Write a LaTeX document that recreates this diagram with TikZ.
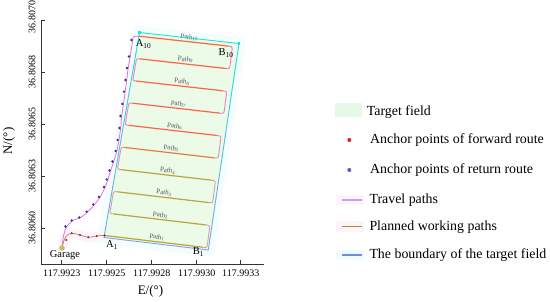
\documentclass[tikz,border=0pt]{standalone}
\usepackage{fontspec}
\setmainfont{Liberation Serif}
\usetikzlibrary{calc}
\definecolor{fieldgreen}{RGB}{236,250,232}
\definecolor{halo}{RGB}{243,253,253}
\definecolor{pinkhalo}{RGB}{253,244,249}
\definecolor{bcyan}{RGB}{30,225,225}
\definecolor{bblue}{RGB}{130,160,235}
\definecolor{wred}{RGB}{255,100,70}
\definecolor{wolive}{RGB}{185,165,60}
\definecolor{upink}{RGB}{240,120,200}
\definecolor{ugray}{RGB}{210,165,175}
\definecolor{retpink}{RGB}{230,115,215}
\definecolor{fwdpink}{RGB}{205,125,135}
\definecolor{retdot}{RGB}{45,45,175}
\definecolor{fwddot}{RGB}{120,45,45}
\definecolor{garagec}{RGB}{200,190,100}
\definecolor{legred}{RGB}{235,30,30}
\definecolor{legblue}{RGB}{100,90,190}
\definecolor{legtravel}{RGB}{200,160,240}
\definecolor{legplan}{RGB}{170,140,45}
\definecolor{legbound}{RGB}{110,140,225}
\definecolor{leggreen}{RGB}{230,249,230}
\definecolor{legbgpink}{RGB}{253,244,250}
\definecolor{legbgcyan}{RGB}{240,251,253}
\newcommand\fieldpt[3]{%
  \coordinate (fpA) at ($(TL)!#2!(TR)$);
  \coordinate (fpB) at ($(BL)!#2!(BR)$);
  \coordinate (#1) at ($(fpA)!#3!(fpB)$);}
\begin{document}
\begin{tikzpicture}[x=1pt,y=-1pt,
  ticklab/.style={font=\fontsize{10}{12}\selectfont, inner sep=0pt},
  axlab/.style={font=\fontsize{13}{15}\selectfont, inner sep=0pt},
  leglab/.style={font=\fontsize{13.9}{16}\selectfont, anchor=base west, inner sep=0pt},
  pathlab/.style={font=\fontsize{7}{8}\selectfont, text=black!65, anchor=south, inner sep=1.2pt, rotate=-6.3},
  ptlab/.style={font=\fontsize{10.5}{12}\selectfont, inner sep=0pt},
  workline/.style={line width=1.2pt, line cap=round},
  uturn/.style={line width=0.9pt},
  bline/.style={line width=0.9pt, line cap=round},
  axisline/.style={line width=0.7pt, black!80},
  route/.style={line width=0.8pt},
]
\useasboundingbox (0,0) rectangle (550,302);

% ---------- field corners ----------
\coordinate (TL) at (139.5,32.5);
\coordinate (TR) at (239,43.5);
\coordinate (BL) at (104,237.5);
\coordinate (BR) at (208.3,250);

% ---------- axes ----------
\draw[axisline] (41,20) -- (41,264) -- (263.5,264);
\foreach \yy in {20,72,124,176,228} \draw[axisline] (41,\yy) -- (45,\yy);
\foreach \xx in {61.7,106.7,151.7,196.7,240.7} \draw[axisline] (\xx,264) -- (\xx,260);
\node[ticklab, rotate=90] (y1) at (32,17) {36.8070};
\node[ticklab, rotate=90] (y2) at (32,72) {36.8068};
\node[ticklab, rotate=90] (y3) at (32,124) {36.8065};
\node[ticklab, rotate=90] (y4) at (32,176) {36.8063};
\node[ticklab, rotate=90] (y5) at (32,228) {36.8060};
\node[ticklab] (x1) at (61.7,273.5) {117.9923};
\node[ticklab] (x2) at (106.7,273.5) {117.9925};
\node[ticklab] (x3) at (151.7,273.5) {117.9928};
\node[ticklab] (x4) at (196.7,273.5) {117.9930};
\node[ticklab] (x5) at (240.7,273.5) {117.9933};
\node[axlab] (xlab) at (150.5,291.5) {E/(°)};
\node[axlab, rotate=90] (ylab) at (9,141) {N/(°)};

% ---------- halos and field ----------
\draw[line width=13pt, color=halo, line join=round] (TL)--(TR)--(BR)--(BL)--cycle;
\draw[line width=10pt, color=pinkhalo, line cap=round, line join=round]
  plot[smooth] coordinates {(62,246) (66,237) (72,233.5) (88,237.3) (100,236)};
\fill[fieldgreen] (TL)--(TR)--(BR)--(BL)--cycle;

% ---------- working path geometry ----------
\foreach \k in {1,...,10}{
  \pgfmathsetmacro\myT{0.99-(\k-1)*0.108}
  \pgfmathsetmacro\mySR{0.94-(\k-1)*0.005}
  \pgfmathsetmacro\mySB{\mySR+0.045}
  \pgfmathsetmacro\mySL{(\k==1 || \k==10) ? 0 : 0.055}
  \fieldpt{L\k}{\mySL}{\myT}
  \fieldpt{LB\k}{0.015}{\myT}
  \fieldpt{R\k}{\mySR}{\myT}
  \fieldpt{RB\k}{\mySB}{\myT}
  \fieldpt{M\k}{0.5}{\myT}
}
\coordinate (A1) at (L1);
\coordinate (A10) at (L10);
\coordinate (Garage) at (62,248);

% U-turns
\foreach \k in {1,3,5,7,9}{
  \pgfmathtruncatemacro\kk{\k+1}
  \pgfmathtruncatemacro\pp{(\k-1)*12.5}
  \draw[uturn, color=upink!\pp!ugray] (R\k) .. controls (RB\k) .. ($(RB\k)!4.5pt!(RB\kk)$)
     -- ($(RB\kk)!4.5pt!(RB\k)$) .. controls (RB\kk) .. (R\kk);
}
\foreach \k in {2,4,6,8}{
  \pgfmathtruncatemacro\kk{\k+1}
  \pgfmathtruncatemacro\pp{(\k-1)*12.5}
  \draw[uturn, color=upink!\pp!ugray] (L\k) .. controls (LB\k) .. ($(LB\k)!4.5pt!(LB\kk)$)
     -- ($(LB\kk)!4.5pt!(LB\k)$) .. controls (LB\kk) .. (L\kk);
}
% working lines
\foreach \k in {1,...,10}{
  \pgfmathtruncatemacro\mix{max(0,min(100,(\k-4)*60))}
  \draw[workline, color=wred!\mix!wolive] (L\k) -- (R\k);
  \node[pathlab] (pl\k) at (M\k) {Path\textsubscript{\k}};
}

% ---------- boundary ----------
\draw[bline, bcyan] (TL) -- (TR);
\draw[bline, bblue] (BL) -- (BR);
\foreach \i in {0,...,19}{
  \pgfmathsetmacro\aa{\i/20}
  \pgfmathsetmacro\bb{(\i+1)/20}
  \pgfmathtruncatemacro\pp{100-\i*5}
  \draw[bline, color=bcyan!\pp!bblue] ($(TL)!\aa!(BL)$) -- ($(TL)!\bb!(BL)$);
  \draw[bline, color=bcyan!\pp!bblue] ($(TR)!\aa!(BR)$) -- ($(TR)!\bb!(BR)$);
}
\fill[bcyan] ($(TL)+(-1.2,-1.2)$) rectangle ($(TL)+(1.2,1.2)$);
\fill[bcyan] ($(TR)+(-1.2,-1.2)$) rectangle ($(TR)+(1.2,1.2)$);

% ---------- travel routes ----------
\draw[route, retpink] plot[smooth, tension=0.55] coordinates {
  (A10) (133.5,37) (132.6,41) (130.2,56.5) (128.2,68) (126.7,80) (125.2,91.7)
  (123.5,104) (121.7,116) (120.7,128) (118.9,140) (116.9,151) (113.7,161.5)
  (110.7,170.5) (107.9,179.5) (105.2,187) (100.2,197) (94.5,204.5) (87.9,211.7)
  (80.5,217.5) (72.9,220.5) (66.7,226.5) (63.5,236) (Garage)};
\foreach \p in {(131.5,40),(129,56.5),(127,68),(125.5,80),(124,91.7),(122.3,104),
  (120.5,116),(119.5,128),(117.7,140),(115.7,151),(112.5,161.5),(109.5,170.5),
  (106.7,179.5),(104,187),(99,197),(93.3,204.5),(86.7,211.7),(79.3,217.5),
  (71.7,220.5),(65.5,226.5)}
  \fill[retdot] \p circle (1.3);
\draw[route, fwdpink] plot[smooth, tension=0.55] coordinates {
  (Garage) (64,240.5) (67,235.5) (71.7,233.3) (80,235) (88.3,237.3) (96.7,236) (A1)};
\foreach \p in {(66.2,240),(71.7,233.3),(80,235),(88.3,237.3),(96.7,236),(104.5,235.5)}
  \fill[fwddot] \p circle (1.1);
\fill[garagec] (Garage) circle (2.8);

% ---------- point labels ----------
\node[ptlab] (gar) at (65,255.5) {Garage};
\node[ptlab] (lA10) at (143.5,44) {A\textsubscript{10}};
\node[ptlab] (lB10) at (226,53) {B\textsubscript{10}};
\node[ptlab] (lA1) at (112,245) {A\textsubscript{1}};
\node[ptlab] (lB1) at (198.5,252) {B\textsubscript{1}};

% ---------- legend ----------
\fill[leggreen] (335,103.5) rectangle (362,117);
\node[leglab] (t1) at (366.7,115.2) {Target field};
\fill[legred] (349.3,140) circle (2);
\node[leglab] (t2) at (370,143.8) {Anchor points of forward route};
\fill[legblue] (349.3,170) circle (2);
\node[leglab] (t3) at (370,173.8) {Anchor points of return route};
\fill[legbgpink] (336,195) rectangle (364,205.5);
\draw[line width=1.1pt, legtravel] (341.5,200) -- (362,200);
\node[leglab] (t4) at (369.3,203.8) {Travel paths};
\fill[legbgpink] (336,221.5) rectangle (364,232);
\draw[line width=1.3pt, legplan] (341.5,226.7) -- (362,226.7);
\node[leglab] (t5) at (369.3,231) {Planned working paths};
\fill[legbgcyan] (336,250) rectangle (364,260.5);
\draw[line width=1.3pt, legbound] (341.5,255) -- (362,255);
\node[leglab] (t6) at (369.3,259) {The boundary of the target field};
\end{tikzpicture}
\end{document}
